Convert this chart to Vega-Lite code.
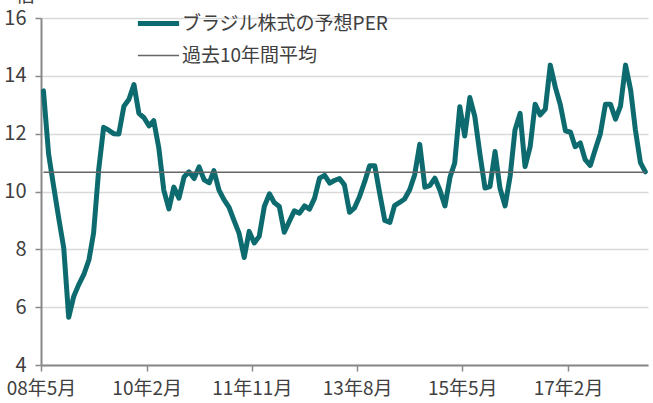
{
  "$schema": "https://vega.github.io/schema/vega-lite/v6.json",
  "width": 607,
  "height": 347,
  "autosize": {"type": "none"},
  "padding": {"left": 41, "top": 18, "right": 5, "bottom": 38},
  "background": "white",
  "config": {
    "font": "Noto Sans CJK JP",
    "view": {"stroke": null}
  },
  "datasets": {
    "per": [
      {"date": "2008-05-16", "value": 13.48}, {"date": "2008-06-16", "value": 11.3}, {"date": "2008-07-16", "value": 10.2},
      {"date": "2008-08-16", "value": 9.1}, {"date": "2008-09-16", "value": 8.05}, {"date": "2008-10-16", "value": 5.65},
      {"date": "2008-11-16", "value": 6.38}, {"date": "2008-12-16", "value": 6.78}, {"date": "2009-01-16", "value": 7.13},
      {"date": "2009-02-16", "value": 7.64}, {"date": "2009-03-16", "value": 8.56}, {"date": "2009-04-16", "value": 10.75},
      {"date": "2009-05-16", "value": 12.22}, {"date": "2009-06-16", "value": 12.12}, {"date": "2009-07-16", "value": 12.0},
      {"date": "2009-08-16", "value": 11.99}, {"date": "2009-09-16", "value": 12.95}, {"date": "2009-10-16", "value": 13.18},
      {"date": "2009-11-16", "value": 13.7}, {"date": "2009-12-16", "value": 12.7}, {"date": "2010-01-16", "value": 12.55},
      {"date": "2010-02-16", "value": 12.27}, {"date": "2010-03-16", "value": 12.45}, {"date": "2010-04-16", "value": 11.5},
      {"date": "2010-05-16", "value": 10.05}, {"date": "2010-06-16", "value": 9.4}, {"date": "2010-07-16", "value": 10.15},
      {"date": "2010-08-16", "value": 9.77}, {"date": "2010-09-16", "value": 10.5}, {"date": "2010-10-16", "value": 10.68},
      {"date": "2010-11-16", "value": 10.45}, {"date": "2010-12-16", "value": 10.85}, {"date": "2011-01-16", "value": 10.4},
      {"date": "2011-02-16", "value": 10.3}, {"date": "2011-03-16", "value": 10.72}, {"date": "2011-04-16", "value": 10.05},
      {"date": "2011-05-16", "value": 9.72}, {"date": "2011-06-16", "value": 9.45}, {"date": "2011-07-16", "value": 9.0},
      {"date": "2011-08-16", "value": 8.55}, {"date": "2011-09-16", "value": 7.72}, {"date": "2011-10-16", "value": 8.62},
      {"date": "2011-11-16", "value": 8.22}, {"date": "2011-12-16", "value": 8.45}, {"date": "2012-01-16", "value": 9.48},
      {"date": "2012-02-16", "value": 9.92}, {"date": "2012-03-16", "value": 9.62}, {"date": "2012-04-16", "value": 9.48},
      {"date": "2012-05-16", "value": 8.59}, {"date": "2012-06-16", "value": 8.97}, {"date": "2012-07-16", "value": 9.33},
      {"date": "2012-08-16", "value": 9.25}, {"date": "2012-09-16", "value": 9.5}, {"date": "2012-10-16", "value": 9.39},
      {"date": "2012-11-16", "value": 9.77}, {"date": "2012-12-16", "value": 10.46}, {"date": "2013-01-16", "value": 10.56},
      {"date": "2013-02-16", "value": 10.29}, {"date": "2013-03-16", "value": 10.38}, {"date": "2013-04-16", "value": 10.45},
      {"date": "2013-05-16", "value": 10.23}, {"date": "2013-06-16", "value": 9.28}, {"date": "2013-07-16", "value": 9.43},
      {"date": "2013-08-16", "value": 9.83}, {"date": "2013-09-16", "value": 10.34}, {"date": "2013-10-16", "value": 10.89},
      {"date": "2013-11-16", "value": 10.89}, {"date": "2013-12-16", "value": 9.94}, {"date": "2014-01-16", "value": 9.0},
      {"date": "2014-02-16", "value": 8.93}, {"date": "2014-03-16", "value": 9.51}, {"date": "2014-04-16", "value": 9.62},
      {"date": "2014-05-16", "value": 9.74}, {"date": "2014-06-16", "value": 10.06}, {"date": "2014-07-16", "value": 10.57},
      {"date": "2014-08-16", "value": 11.63}, {"date": "2014-09-16", "value": 10.15}, {"date": "2014-10-16", "value": 10.2},
      {"date": "2014-11-16", "value": 10.46}, {"date": "2014-12-16", "value": 10.05}, {"date": "2015-01-16", "value": 9.5},
      {"date": "2015-02-16", "value": 10.5}, {"date": "2015-03-16", "value": 10.98}, {"date": "2015-04-16", "value": 12.93},
      {"date": "2015-05-16", "value": 11.92}, {"date": "2015-06-16", "value": 13.25}, {"date": "2015-07-16", "value": 12.6},
      {"date": "2015-08-16", "value": 11.3}, {"date": "2015-09-16", "value": 10.12}, {"date": "2015-10-16", "value": 10.17},
      {"date": "2015-11-16", "value": 11.38}, {"date": "2015-12-16", "value": 10.11}, {"date": "2016-01-16", "value": 9.5},
      {"date": "2016-02-16", "value": 10.55}, {"date": "2016-03-16", "value": 12.13}, {"date": "2016-04-16", "value": 12.7},
      {"date": "2016-05-16", "value": 10.86}, {"date": "2016-06-16", "value": 11.55}, {"date": "2016-07-16", "value": 13.02},
      {"date": "2016-08-16", "value": 12.65}, {"date": "2016-09-16", "value": 12.85}, {"date": "2016-10-16", "value": 14.37},
      {"date": "2016-11-16", "value": 13.6}, {"date": "2016-12-16", "value": 13.0}, {"date": "2017-01-16", "value": 12.1},
      {"date": "2017-02-16", "value": 12.05}, {"date": "2017-03-16", "value": 11.55}, {"date": "2017-04-16", "value": 11.68},
      {"date": "2017-05-16", "value": 11.1}, {"date": "2017-06-16", "value": 10.9}, {"date": "2017-07-16", "value": 11.45},
      {"date": "2017-08-16", "value": 12.0}, {"date": "2017-09-16", "value": 13.02}, {"date": "2017-10-16", "value": 13.02},
      {"date": "2017-11-16", "value": 12.5}, {"date": "2017-12-16", "value": 12.95}, {"date": "2018-01-16", "value": 14.37},
      {"date": "2018-02-16", "value": 13.5}, {"date": "2018-03-16", "value": 12.15}, {"date": "2018-04-16", "value": 11.0},
      {"date": "2018-05-16", "value": 10.68}
    ],
    "avg": [
      {"date": "2008-05-16", "value": 10.67},
      {"date": "2018-05-16", "value": 10.67}
    ]
  },
  "encoding": {
    "x": {
      "field": "date",
      "type": "temporal",
      "scale": {"domain": [{"year": 2008, "month": 5, "date": 1}, {"year": 2018, "month": 6, "date": 1}]},
      "axis": {
        "title": null,
        "values": [
          {"year": 2008, "month": 5, "date": 1},
          {"year": 2010, "month": 2, "date": 1},
          {"year": 2011, "month": 11, "date": 1},
          {"year": 2013, "month": 8, "date": 1},
          {"year": 2015, "month": 5, "date": 1},
          {"year": 2017, "month": 2, "date": 1}
        ],
        "format": "%y年%-m月",
        "labelFontSize": 19,
        "labelColor": "#404040",
        "labelPadding": 8,
        "labelFlush": false,
        "tickSize": 6,
        "tickColor": "#888888",
        "tickWidth": 1.5,
        "domainColor": "#888888",
        "domainWidth": 2,
        "grid": false
      }
    },
    "y": {
      "field": "value",
      "type": "quantitative",
      "scale": {"domain": [4, 16], "nice": false, "zero": false},
      "axis": {
        "values": [4, 6, 8, 10, 12, 14, 16],
        "title": "倍",
        "titleAngle": 0,
        "titleAlign": "center",
        "titleBaseline": "alphabetic",
        "titleX": -16,
        "titleY": -17,
        "titleFontSize": 19,
        "titleFontWeight": "normal",
        "titleColor": "#404040",
        "labelFontSize": 20,
        "labelColor": "#404040",
        "labelPadding": 9,
        "tickSize": 6,
        "tickColor": "#888888",
        "tickWidth": 1.5,
        "domainColor": "#888888",
        "domainWidth": 2,
        "grid": true,
        "gridColor": "#D9D9D9",
        "gridWidth": 1.5
      }
    },
    "color": {
      "field": "series",
      "type": "nominal",
      "scale": {"domain": ["ブラジル株式の予想PER", "過去10年間平均"], "range": ["#0D6B6F", "#666666"]},
      "legend": {
        "title": null,
        "orient": "none",
        "legendX": 94,
        "legendY": -18,
        "direction": "vertical",
        "symbolType": "stroke",
        "symbolSize": 1700,
        "labelFontSize": 19,
        "labelColor": "#404040",
        "labelOffset": 0,
        "labelLimit": 0,
        "rowPadding": -2
      }
    },
    "strokeWidth": {
      "field": "series",
      "type": "nominal",
      "scale": {"domain": ["ブラジル株式の予想PER", "過去10年間平均"], "range": [5, 1.5]},
      "legend": {
        "title": null,
        "orient": "none",
        "legendX": 94,
        "legendY": -18,
        "direction": "vertical",
        "symbolType": "stroke",
        "symbolSize": 1700,
        "labelFontSize": 19,
        "labelColor": "#404040",
        "labelOffset": 0,
        "labelLimit": 0,
        "rowPadding": -2
      }
    }
  },
  "layer": [
    {
      "data": {"name": "per", "format": {"parse": {"date": "date:'%Y-%m-%d'"}}},
      "transform": [{"calculate": "'ブラジル株式の予想PER'", "as": "series"}],
      "mark": {"type": "line", "strokeJoin": "round", "strokeCap": "round"}
    },
    {
      "data": {"name": "avg", "format": {"parse": {"date": "date:'%Y-%m-%d'"}}},
      "transform": [{"calculate": "'過去10年間平均'", "as": "series"}],
      "mark": {"type": "line"}
    }
  ]
}
